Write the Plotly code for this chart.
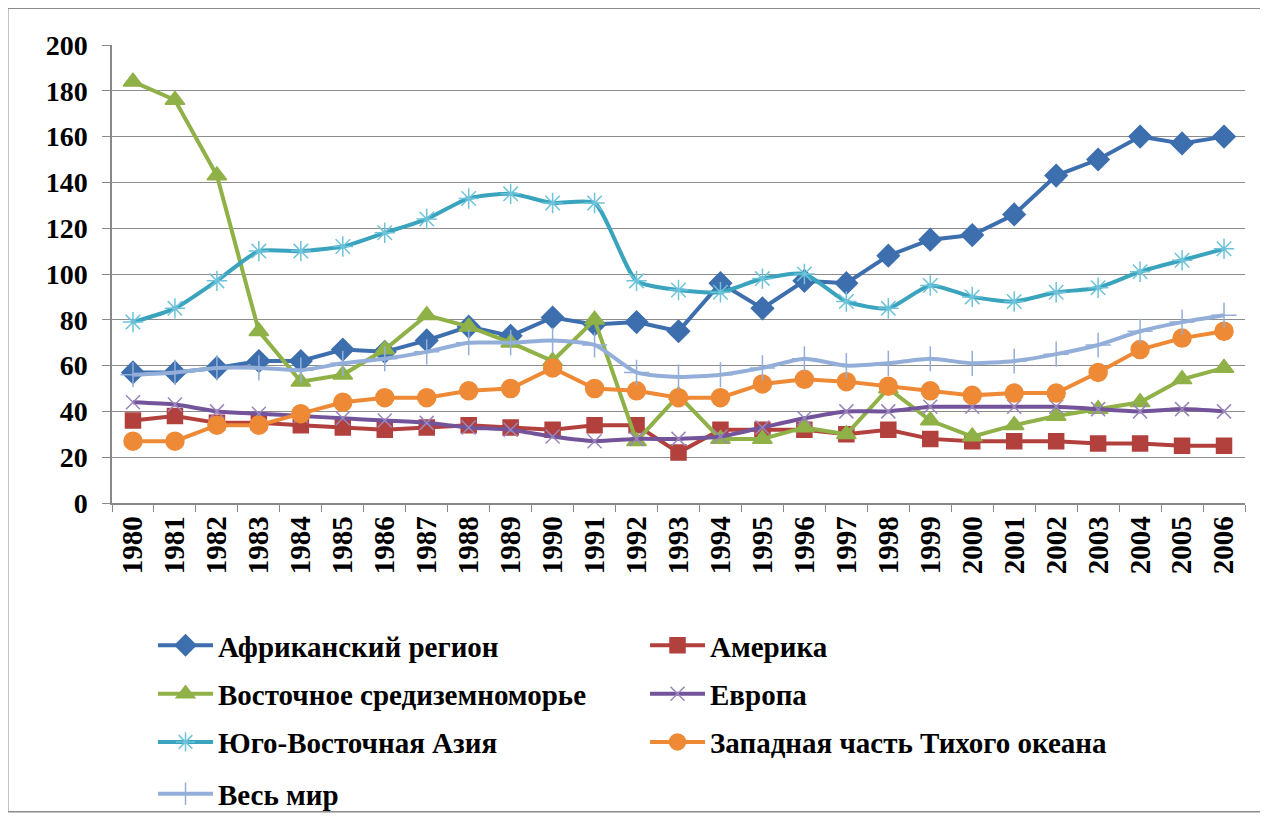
import plotly.graph_objects as go

years = [str(y) for y in range(1980, 2007)]

africa = [57, 57, 59, 62, 62, 67, 66, 71, 77, 73, 81, 78, 79, 75, 96, 85, 97, 96, 108, 115, 117, 126, 143, 150, 160, 157, 160]
america = [36, 38, 35, 35, 34, 33, 32, 33, 34, 33, 32, 34, 34, 22, 32, 32, 32, 30, 32, 28, 27, 27, 27, 26, 26, 25, 25]
east_med = [184, 176, 143, 75, 53, 56, 67, 82, 77, 70, 62, 80, 27, 47, 28, 28, 33, 30, 50, 36, 29, 34, 38, 41, 44, 54, 59]
europe = [44, 43, 40, 39, 38, 37, 36, 35, 33, 32, 29, 27, 28, 28, 29, 33, 37, 40, 40, 42, 42, 42, 42, 41, 40, 41, 40]
se_asia = [79, 85, 97, 110, 110, 112, 118, 124, 133, 135, 131, 131, 97, 93, 92, 98, 100, 88, 85, 95, 90, 88, 92, 94, 101, 106, 111]
w_pacific = [27, 27, 34, 34, 39, 44, 46, 46, 49, 50, 59, 50, 49, 46, 46, 52, 54, 53, 51, 49, 47, 48, 48, 57, 67, 72, 75]
world = [56, 57, 59, 59, 58, 61, 63, 66, 70, 70, 71, 69, 57, 55, 56, 59, 63, 60, 61, 63, 61, 62, 65, 69, 75, 79, 82]

# name, values, line colour, marker colour, symbol, size, line shape, legend row
series = [
    ("Африканский регион", africa, "#3d6eae", "#3d6eae", "diamond", 17, "linear", "legend"),
    ("Америка", america, "#b2403d", "#b2403d", "square", 15, "linear", "legend"),
    ("Восточное средиземноморье", east_med, "#8fb147", "#8fb147", "triangle-up", 17, "linear", "legend2"),
    ("Европа", europe, "#73549a", "#9a86bd", "x-thin-open", 14, "spline", "legend2"),
    ("Юго-Восточная Азия", se_asia, "#3aa3bd", "#6cc3da", "asterisk-open", 17, "spline", "legend3"),
    ("Западная часть Тихого океана", w_pacific, "#ee8a36", "#ee8a36", "circle", 18, "linear", "legend3"),
    ("Весь мир", world, "#93afd9", "#93afd9", "cross-thin-open", 18, "spline", "legend4"),
]

fig = go.Figure()
for name, vals, color, mcolor, sym, size, shape, leg in series:
    fig.add_trace(go.Scatter(
        x=years, y=vals, name=name, mode="lines+markers",
        line=dict(color=color, width=4, shape=shape, smoothing=0.6),
        marker=dict(symbol=sym, size=size, color=mcolor, line=dict(color=mcolor, width=1.5)),
        legend=leg,
    ))

font = "Liberation Serif"
leg_base = dict(orientation="h", x=0.0362, xanchor="left", yanchor="middle",
                entrywidth=422, itemwidth=55, bgcolor="rgba(0,0,0,0)",
                font=dict(family=font, size=29, color="black", weight="bold"))

# page body has an 8px margin, so the margins are shifted to keep the plot area in place
fig.update_layout(
    width=1268, height=823,
    margin=dict(l=104, r=31, t=37, b=326),
    plot_bgcolor="white", paper_bgcolor="white",
    font=dict(family=font, color="black"),
    showlegend=True,
    legend=dict(leg_base, y=-0.311),
    legend2=dict(leg_base, y=-0.417),
    legend3=dict(leg_base, y=-0.522),
    legend4=dict(leg_base, y=-0.635),
    xaxis=dict(type="category", range=[-0.5, len(years) - 0.5], tickangle=-90, showgrid=False,
               showline=True, linecolor="#888", linewidth=1.5,
               ticks="outside", tickson="boundaries", ticklen=7, tickcolor="#888",
               tickfont=dict(family=font, size=29, color="black", weight="bold")),
    yaxis=dict(range=[0, 200], dtick=20, showgrid=True, gridcolor="#8c8c8c", gridwidth=1,
               showline=True, linecolor="#888", linewidth=1.5,
               ticks="outside", ticklen=8, tickcolor="#888", zeroline=False,
               ticklabelstandoff=9,
               tickfont=dict(family=font, size=28, color="black", weight="bold")),
    shapes=[dict(type="rect", xref="paper", yref="paper",
                 x0=-0.092, x1=1.015, y0=-0.674, y1=1.08,
                 line=dict(color="#8c8c8c", width=1.5), fillcolor="rgba(0,0,0,0)")],
)

fig.write_html("out.html")
